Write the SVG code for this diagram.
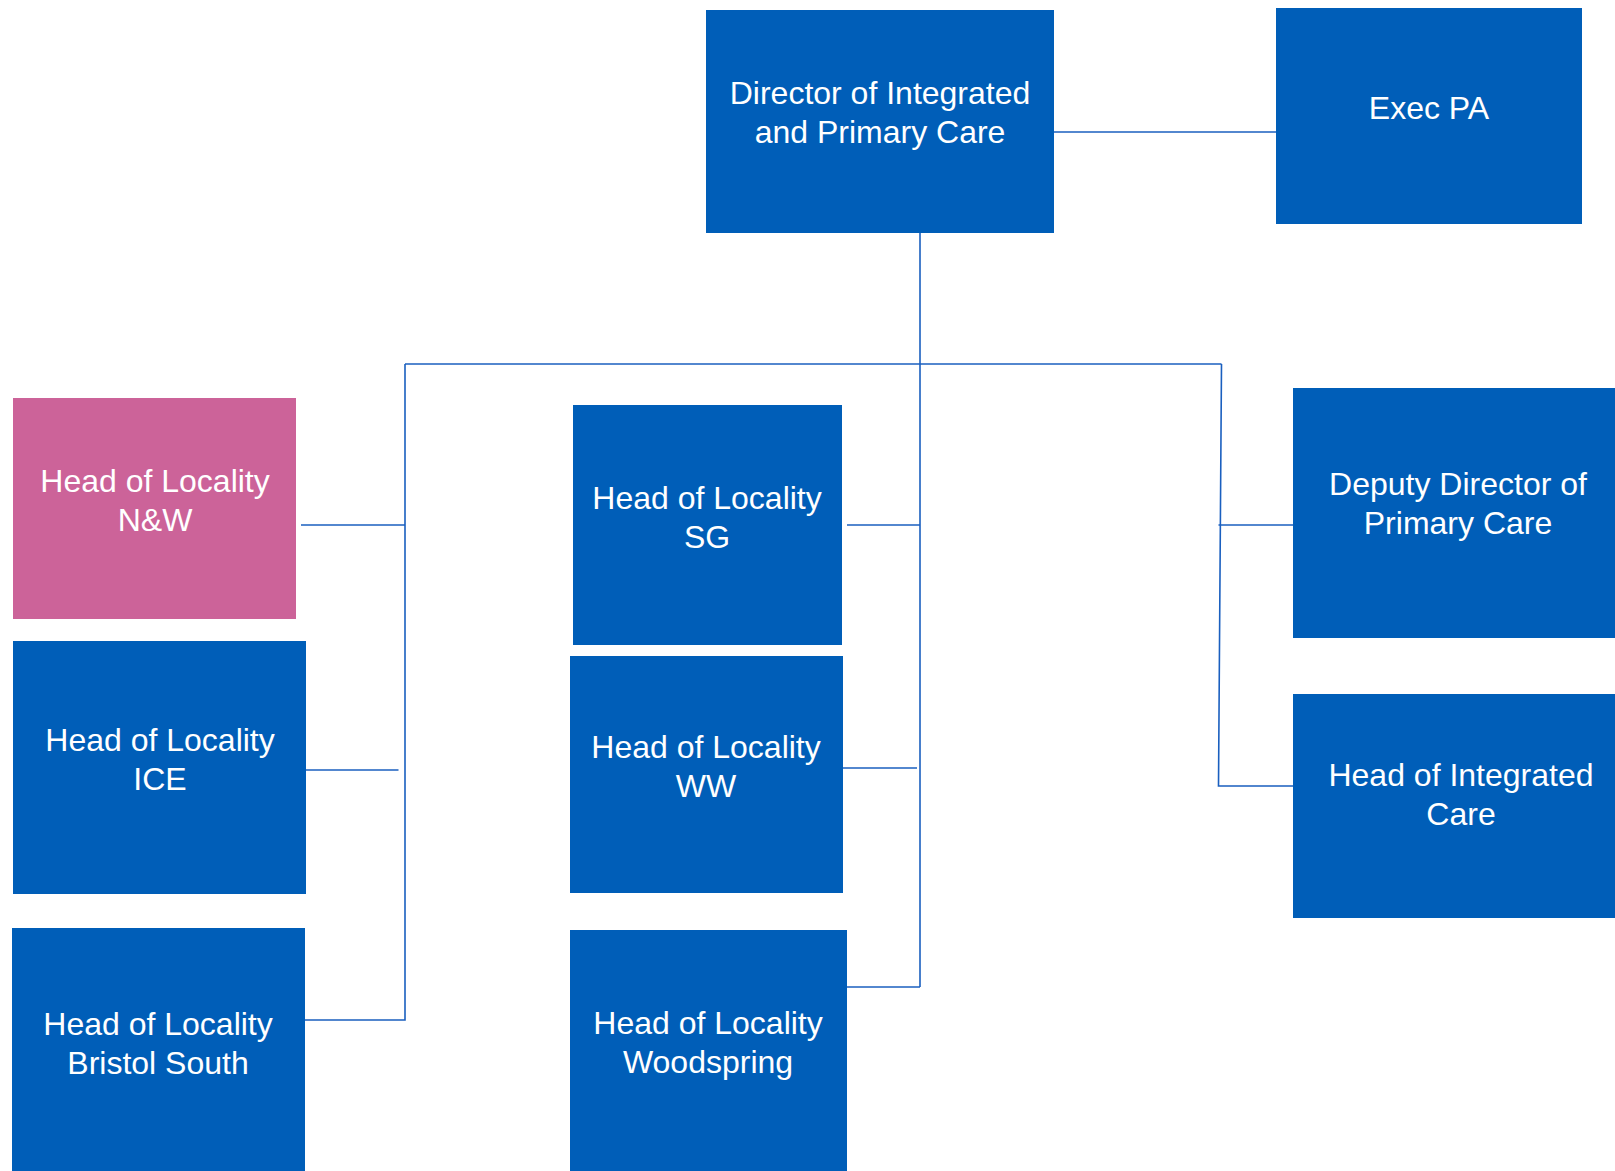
<svg xmlns="http://www.w3.org/2000/svg" width="1615" height="1171" viewBox="0 0 1615 1171">
<style>
.box{fill:#005EB8}
.pink{fill:#CC6399}
.t{font-family:"Liberation Sans",Arial,sans-serif;font-size:32px;fill:#FFFFFF;text-anchor:middle}
.c{stroke:#1A5FBF;stroke-width:1.6;fill:none}
</style>
<rect width="1615" height="1171" fill="#FFFFFF"/>
<g id="connectors">
<line class="c" x1="1053" y1="132" x2="1276" y2="132"/>
<line class="c" x1="920" y1="232" x2="920" y2="987"/>
<line class="c" x1="405" y1="364" x2="1221.5" y2="364"/>
<polyline class="c" points="405,364 405,1020 305,1020"/>
<line class="c" x1="301" y1="525" x2="405" y2="525"/>
<line class="c" x1="306" y1="770" x2="398.5" y2="770"/>
<line class="c" x1="847" y1="525" x2="920" y2="525"/>
<line class="c" x1="842" y1="768" x2="917" y2="768"/>
<line class="c" x1="846" y1="987" x2="920" y2="987"/>
<polyline class="c" points="1221.5,364 1218.5,786 1293,786"/>
<line class="c" x1="1218.5" y1="525" x2="1293" y2="525"/>
</g>
<g id="director">
<rect class="box" x="706" y="10" width="348" height="223"/>
<text class="t" x="880" y="104">Director of Integrated</text>
<text class="t" x="880" y="143">and Primary Care</text>
</g>
<g id="exec-pa">
<rect class="box" x="1276" y="8" width="306" height="216"/>
<text class="t" x="1429" y="119">Exec PA</text>
</g>
<g id="hol-nw">
<rect class="pink" x="13" y="398" width="283" height="221"/>
<text class="t" x="155" y="492">Head of Locality</text>
<text class="t" x="155" y="531">N&amp;W</text>
</g>
<g id="hol-ice">
<rect class="box" x="13" y="641" width="293" height="253"/>
<text class="t" x="160" y="751">Head of Locality</text>
<text class="t" x="160" y="790">ICE</text>
</g>
<g id="hol-bristol-south">
<rect class="box" x="12" y="928" width="293" height="243"/>
<text class="t" x="158" y="1035">Head of Locality</text>
<text class="t" x="158" y="1074">Bristol South</text>
</g>
<g id="hol-sg">
<rect class="box" x="573" y="405" width="269" height="240"/>
<text class="t" x="707" y="509">Head of Locality</text>
<text class="t" x="707" y="548">SG</text>
</g>
<g id="hol-ww">
<rect class="box" x="570" y="656" width="273" height="237"/>
<text class="t" x="706" y="758">Head of Locality</text>
<text class="t" x="706" y="797">WW</text>
</g>
<g id="hol-woodspring">
<rect class="box" x="570" y="930" width="277" height="241"/>
<text class="t" x="708" y="1034">Head of Locality</text>
<text class="t" x="708" y="1073">Woodspring</text>
</g>
<g id="deputy-director">
<rect class="box" x="1293" y="388" width="322" height="250"/>
<text class="t" x="1458" y="495">Deputy Director of</text>
<text class="t" x="1458" y="534">Primary Care</text>
</g>
<g id="head-integrated-care">
<rect class="box" x="1293" y="694" width="322" height="224"/>
<text class="t" x="1461" y="786">Head of Integrated</text>
<text class="t" x="1461" y="825">Care</text>
</g>
</svg>
